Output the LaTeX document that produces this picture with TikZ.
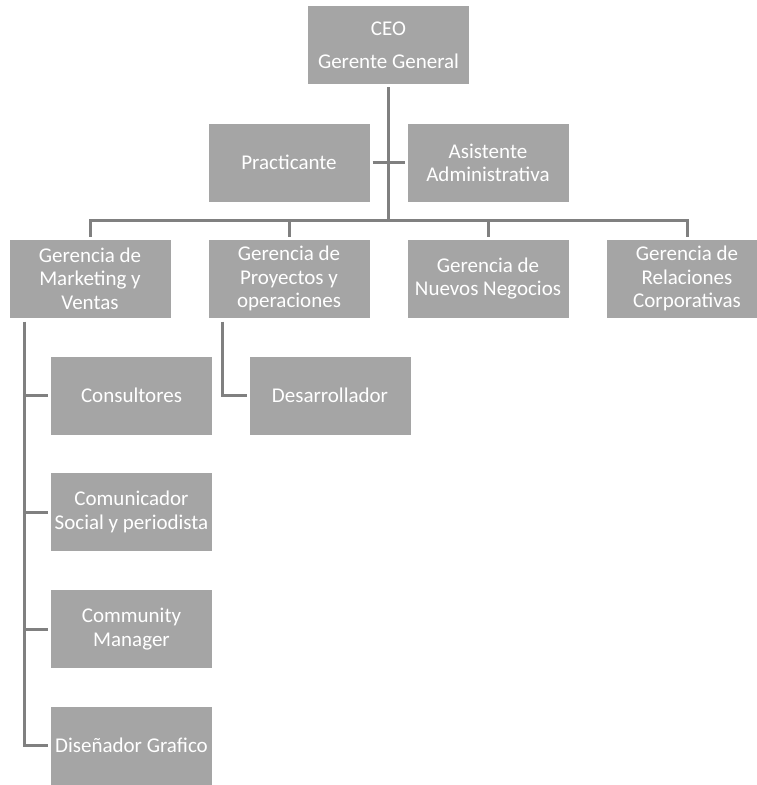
\documentclass[tikz,border=0pt]{standalone}
\usepackage{fontspec}
\setmainfont{Carlito}
\definecolor{boxfill}{HTML}{A5A5A5}
\definecolor{linegray}{HTML}{808080}
\begin{document}
\begin{tikzpicture}[x=1pt,y=-1pt,
  orgbox/.style={rectangle, fill=boxfill, draw=white, line width=0.6pt,
    minimum width=162pt, minimum height=79pt, inner sep=1pt,
    text=white, align=center, outer sep=2.5pt,
    font=\fontsize{21pt}{23.3pt}\selectfont},
  link/.style={draw=linegray, line width=3pt}]
\useasboundingbox (0,0) rectangle (756,785);
% nodes
\node[orgbox] (ceo) at (388.5,45) {CEO\\[10pt]Gerente General};
\node[orgbox] (prac) at (289,162.5) {Practicante};
\node[orgbox] (asis) at (488,162.5) {Asistente\\Administrativa};
\node[orgbox] (mkt) at (90,278.5) {Gerencia de\\Marketing y\\Ventas};
\node[orgbox] (proy) at (289,278.5) {Gerencia de\\Proyectos y\\operaciones};
\node[orgbox] (nue) at (488,278.5) {Gerencia de\\Nuevos Negocios};
\node[orgbox] (rel) at (687,278.5) {Gerencia de\\Relaciones\\Corporativas};
\node[orgbox] (cons) at (131.5,395.5) {Consultores};
\node[orgbox] (desa) at (330,395.5) {Desarrollador};
\node[orgbox] (comu) at (131.5,512) {Comunicador\\Social y periodista};
\node[orgbox] (cm) at (131.5,629) {Community\\Manager};
\node[orgbox] (dis) at (131.5,745.5) {Diseñador Grafico};
% coordinates
\coordinate (bus) at (388.7,220.7);
\coordinate (busL) at (90,220.7);
\coordinate (busR) at (687,220.7);
\coordinate (mktL) at (24,321.5);
\coordinate (proyL) at (222.7,321.5);
% connectors
\draw[link] (ceo.south -| bus) -- (bus);
\draw[link] (prac.east) -- (asis.west);
\draw[link] (busL |- mkt.north) -- (busL) -- (busR) -- (busR |- rel.north);
\draw[link] (proy.north) -- (proy.north |- bus);
\draw[link] (nue.north) -- (nue.north |- bus);
\draw[link] (mktL) -- (mktL |- dis.west) -- (dis.west);
\draw[link] (mktL |- cons.west) -- (cons.west);
\draw[link] (mktL |- comu.west) -- (comu.west);
\draw[link] (mktL |- cm.west) -- (cm.west);
\draw[link] (proyL) -- (proyL |- desa.west) -- (desa.west);
\end{tikzpicture}
\end{document}
